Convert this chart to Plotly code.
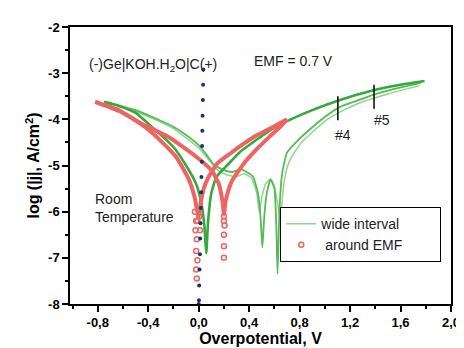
import plotly.graph_objects as go

# ---------------- data ----------------
# green "wide interval" curves
g1_x = [-0.75, -0.62, -0.5, -0.36, -0.2, -0.1, -0.02, 0.02, 0.045, 0.06, 0.075, 0.1, 0.14, 0.21, 0.33, 0.47, 0.6, 0.73, 0.9, 1.12, 1.37, 1.6, 1.79]
g1_y = [-3.62, -3.72, -3.86, -4.19, -4.6, -5.0, -5.4, -5.8, -6.3, -6.9, -6.2, -5.6, -5.25, -5.04, -4.7, -4.42, -4.18, -4.0, -3.8, -3.58, -3.38, -3.25, -3.17]

g2_x = [-0.75, -0.5, -0.35, -0.2, -0.1, 0.0, 0.06, 0.12, 0.2, 0.27, 0.33, 0.38, 0.43, 0.47, 0.49, 0.505, 0.52, 0.54, 0.57, 0.6, 0.615, 0.625, 0.64, 0.66, 0.7, 0.78, 0.88, 1.0, 1.12, 1.25, 1.37, 1.55, 1.76]
g2_y = [-3.62, -3.8, -3.97, -4.16, -4.34, -4.56, -4.76, -4.98, -5.1, -5.14, -5.08, -5.14, -5.24, -5.6, -6.1, -6.77, -6.1, -5.6, -5.3, -5.5, -6.3, -7.35, -6.0, -5.2, -4.72, -4.47, -4.22, -3.95, -3.73, -3.6, -3.48, -3.34, -3.21]

g3_x = [-0.72, -0.5, -0.35, -0.2, -0.1, 0.0, 0.08, 0.15, 0.22, 0.3, 0.36, 0.42, 0.46, 0.48, 0.5, 0.53, 0.57, 0.6, 0.63, 0.645, 0.66, 0.68, 0.72, 0.8, 0.9, 1.02, 1.15, 1.3, 1.5, 1.75]
g3_y = [-3.62, -3.83, -4.0, -4.2, -4.4, -4.62, -4.88, -5.1, -5.2, -5.24, -5.18, -5.28, -5.6, -6.0, -5.7, -5.4, -5.3, -5.45, -5.9, -6.2, -5.8, -5.3, -4.9, -4.55, -4.28, -4.0, -3.8, -3.62, -3.45, -3.27]

# red "around EMF" curves (dense markers drawn as thick line)
r1_x = [-0.82, -0.62, -0.5, -0.36, -0.18, -0.08, -0.03, -0.015, 0.0, 0.016, 0.04, 0.078, 0.15, 0.25, 0.34, 0.45, 0.6, 0.7]
r1_y = [-3.62, -3.83, -4.02, -4.31, -4.81, -5.29, -5.71, -5.95, -6.1, -5.81, -5.5, -5.25, -4.95, -4.74, -4.56, -4.36, -4.15, -4.0]

r2_x = [-0.82, -0.65, -0.49, -0.23, -0.02, 0.1, 0.16, 0.19, 0.2, 0.215, 0.24, 0.264, 0.36, 0.466, 0.56, 0.65, 0.7]
r2_y = [-3.62, -3.78, -4.04, -4.4, -4.81, -5.1, -5.4, -5.8, -6.05, -5.75, -5.5, -5.33, -4.95, -4.63, -4.38, -4.15, -4.0]

# sparse red circles near the minima
rc_x = [-0.03, -0.02, -0.025, -0.015, -0.02, -0.01, -0.02, -0.015, -0.01, 0.01, 0.005, 0.2, 0.205, 0.2, 0.2, 0.2, 0.2]
rc_y = [-6.0, -6.2, -6.4, -6.6, -6.85, -7.05, -7.25, -7.45, -6.2, -6.4, -6.1, -6.1, -6.3, -6.5, -6.75, -7.0, -6.2]

# blue dotted equilibrium line
bd_x = [0.037, 0.035, 0.033, 0.031, 0.029, 0.027, 0.025, 0.022, 0.02, 0.017, 0.015, 0.012, 0.01, 0.007, 0.004, 0.002, 0.0]
bd_y = [-2.92, -3.25, -3.58, -3.92, -4.25, -4.58, -4.92, -5.25, -5.58, -5.92, -6.25, -6.58, -6.92, -7.25, -7.6, -7.92, -8.0]

# #4 and #5 markers
m4_x = [1.103, 1.103]
m4_y = [-3.5, -4.02]
m5_x = [1.39, 1.39]
m5_y = [-3.25, -3.77]

x_tickvals = [-0.8, -0.4, 0.0, 0.4, 0.8, 1.2, 1.6, 2.0]
x_ticktext = ["-0,8", "-0,4", "0,0", "0,4", "0,8", "1,2", "1,6", "2,0"]
y_tickvals = [-8, -7, -6, -5, -4, -3, -2]
y_ticktext = ["-8", "-7", "-6", "-5", "-4", "-3", "-2"]

# ---------------- figure ----------------
DARK_G = "#35a83f"
MID_G = "#55bb55"
LIGHT_G = "#8fd68a"
RED = "#ee6461"
FONT = "Arial, Liberation Sans, sans-serif"
PAD = "\u00a0" * 9

fig = go.Figure()

fig.add_trace(go.Scatter(x=g3_x, y=g3_y, mode="lines", name="wide interval" + PAD,
                         line=dict(color=LIGHT_G, width=1.5, shape="spline", smoothing=0.5),
                         showlegend=True))
fig.add_trace(go.Scatter(x=g2_x, y=g2_y, mode="lines", showlegend=False,
                         line=dict(color=MID_G, width=1.8, shape="spline", smoothing=0.5)))
fig.add_trace(go.Scatter(x=g1_x, y=g1_y, mode="lines", showlegend=False,
                         line=dict(color=DARK_G, width=2.6, shape="spline", smoothing=0.5)))

fig.add_trace(go.Scatter(x=r1_x, y=r1_y, mode="lines", showlegend=False,
                         line=dict(color=RED, width=4, shape="spline", smoothing=0.5)))
fig.add_trace(go.Scatter(x=r2_x, y=r2_y, mode="lines", showlegend=False,
                         line=dict(color=RED, width=4, shape="spline", smoothing=0.5)))
fig.add_trace(go.Scatter(x=rc_x, y=rc_y, mode="markers", name="\u00a0around EMF",
                         marker=dict(symbol="circle-open", color=RED, size=5, line=dict(width=1.5))))

fig.add_trace(go.Scatter(x=bd_x, y=bd_y, mode="markers", showlegend=False,
                         marker=dict(color="#1d2f7a", size=4)))

for mx, my in ((m4_x, m4_y), (m5_x, m5_y)):
    fig.add_trace(go.Scatter(x=mx, y=my, mode="lines", showlegend=False,
                             line=dict(color="#111111", width=1.6)))

annots = [
    dict(x=-0.36, y=-2.83, text="(-)Ge|KOH.H<sub>2</sub>O|C(+)", xanchor="center"),
    dict(x=0.753, y=-2.73, text="EMF = 0.7 V", xanchor="center"),
    dict(x=-0.84, y=-5.92, text="Room<br>Temperature", xanchor="left", align="left"),
    dict(x=1.142, y=-4.35, text="#4", xanchor="center"),
    dict(x=1.452, y=-4.02, text="#5", xanchor="center"),
]
for a in annots:
    fig.add_annotation(xref="x", yref="y", showarrow=False,
                       font=dict(family=FONT, size=14, color="#222222"), **a)

axis_common = dict(showgrid=False, zeroline=False, showline=True, linecolor="black",
                   linewidth=1.5, mirror=True, ticks="outside", ticklen=6, tickwidth=1.5,
                   tickcolor="black")

fig.update_xaxes(range=[-1.02, 2.0], tickvals=x_tickvals, ticktext=x_ticktext,
                 tickfont=dict(family=FONT, size=13, color="black", weight="bold"),
                 title=dict(text="<b>Overpotential, V</b>", standoff=2,
                            font=dict(family=FONT, size=16, color="black")),
                 minor=dict(dtick=0.2, ticks="outside", ticklen=3, tickcolor="black"),
                 **axis_common)
fig.update_yaxes(range=[-8, -2], tickvals=y_tickvals, ticktext=y_ticktext,
                 tickfont=dict(family=FONT, size=13, color="black", weight="bold"),
                 title=dict(text="<b>log (|j|, A/cm<sup>2</sup>)</b>", standoff=4,
                            font=dict(family=FONT, size=16, color="black")),
                 minor=dict(dtick=0.5, ticks="outside", ticklen=3, tickcolor="black"),
                 **axis_common)

fig.update_layout(
    width=464, height=348,
    margin=dict(l=62, r=12, t=17, b=43),
    paper_bgcolor="white", plot_bgcolor="white",
    font=dict(family=FONT, color="black"),
    legend=dict(x=0.552, y=0.35, xanchor="left", yanchor="top",
                bordercolor="black", borderwidth=1, bgcolor="white",
                font=dict(family=FONT, size=14, color="#222222"),
                tracegroupgap=0, itemwidth=30),
)

fig.write_html("out.html")
